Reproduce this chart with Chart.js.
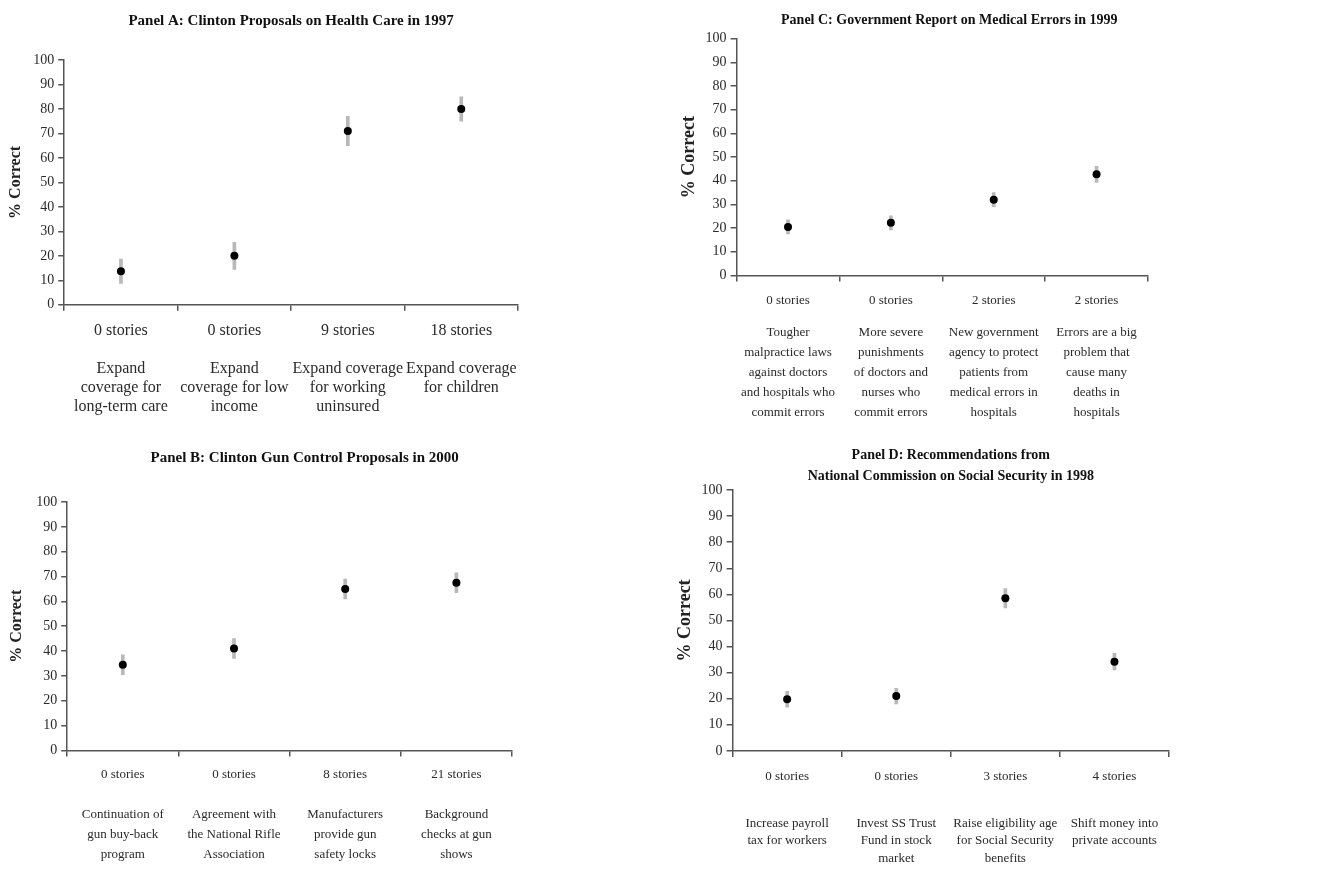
<!DOCTYPE html>
<html>
<head>
<meta charset="utf-8">
<script src="https://cdn.jsdelivr.net/npm/chart.js@4.4.1/dist/chart.umd.min.js"></script>
<style>
  body { margin: 0; background: #fff; width: 1337px; height: 888px; overflow: hidden; }
  .panel { position: absolute; }
</style>
</head>
<body>
<div class="panel" style="left:0px;top:0px;width:530px;height:420px"><canvas id="chartA"></canvas></div>
<div class="panel" style="left:0px;top:440px;width:525px;height:429px"><canvas id="chartB"></canvas></div>
<div class="panel" style="left:672px;top:0px;width:490px;height:427px"><canvas id="chartC"></canvas></div>
<div class="panel" style="left:670px;top:440px;width:667px;height:431px"><canvas id="chartD"></canvas></div>
<script>
// Panel A: health care 1997
const storiesA = ['0 stories', '0 stories', '9 stories', '18 stories'];
const itemsA = [
    ['Expand', 'coverage for', 'long-term care'],
    ['Expand', 'coverage for low', 'income'],
    ['Expand coverage', 'for working', 'uninsured'],
    ['Expand coverage', 'for children']
];
const correctA = [13.7, 20, 71, 80];
const errA = [5, 5.5, 6, 5];

// Panel B: gun control 2000
const storiesB = ['0 stories', '0 stories', '8 stories', '21 stories'];
const itemsB = [
    ['Continuation of', 'gun buy-back', 'program'],
    ['Agreement with', 'the National Rifle', 'Association'],
    ['Manufacturers', 'provide gun', 'safety locks'],
    ['Background', 'checks at gun', 'shows']
];
const correctB = [34.5, 41, 65, 67.5];
const errB = [4, 4, 4, 4];

// Panel C: medical errors 1999
const storiesC = ['0 stories', '0 stories', '2 stories', '2 stories'];
const itemsC = [
    ['Tougher', 'malpractice laws', 'against doctors', 'and hospitals who', 'commit errors'],
    ['More severe', 'punishments', 'of doctors and', 'nurses who', 'commit errors'],
    ['New government', 'agency to protect', 'patients from', 'medical errors in', 'hospitals'],
    ['Errors are a big', 'problem that', 'cause many', 'deaths in', 'hospitals']
];
const correctC = [20.5, 22.2, 32, 42.7];
const errC = [3, 3, 3, 3.4];

// Panel D: social security 1998
const storiesD = ['0 stories', '0 stories', '3 stories', '4 stories'];
const itemsD = [
    ['Increase payroll', 'tax for workers'],
    ['Invest SS Trust', 'Fund in stock', 'market'],
    ['Raise eligibility age', 'for Social Security', 'benefits'],
    ['Shift money into', 'private accounts']
];
const correctD = [19.8, 21, 58.5, 34.2];
const errD = [3, 3, 3.7, 3.2];

const yMin = 0;
const yMax = 100;
const yStep = 10;

const serif = '"Liberation Serif", "Times New Roman", serif';
const axisColor = '#555';
const textColor = '#2a2a2a';

function makePanel(canvasId, title, stories, items, values, errs, opt) {
    const ctx = document.getElementById(canvasId).getContext('2d');
    const ranges = values.map((v, i) => [v - errs[i], v + errs[i]]);
    return new Chart(ctx, {
        type: 'bar',
        data: {
            labels: stories,
            datasets: [{
                type: 'line',
                data: values,
                showLine: false,
                pointRadius: 4,
                pointBackgroundColor: '#000',
                pointBorderColor: '#000',
                pointBorderWidth: 0,
                order: 0
            }, {
                type: 'bar',
                data: ranges,
                backgroundColor: '#b8b8b8',
                borderWidth: 0,
                barThickness: 3,
                order: 1
            }]
        },
        options: {
            responsive: true,
            maintainAspectRatio: false,
            animation: false,
            layout: { padding: opt.padding },
            plugins: {
                legend: { display: false },
                tooltip: { enabled: false },
                title: {
                    display: true,
                    text: title,
                    fullSize: false,
                    color: '#111',
                    font: { family: serif, size: opt.titleSize, weight: 'bold', lineHeight: opt.titleLine || 1.2 },
                    padding: opt.titlePad
                }
            },
            scales: {
                x: {
                    type: 'category',
                    offset: true,
                    grid: { offset: true, drawOnChartArea: false, tickLength: 6, color: axisColor, lineWidth: 1.5 },
                    border: { color: axisColor, width: 1.5 },
                    ticks: { color: textColor, font: { family: serif, size: opt.storySize }, padding: opt.storyPad, maxRotation: 0, autoSkip: false }
                },
                // second bottom axis carries the item descriptions; its invisible ticks make the gap
                x2: {
                    type: 'category',
                    position: 'bottom',
                    labels: items,
                    offset: true,
                    grid: { drawOnChartArea: false, tickLength: opt.descGap, color: 'rgba(0,0,0,0)' },
                    border: { display: false },
                    ticks: { color: textColor, font: { family: serif, size: opt.descSize, lineHeight: opt.descLine }, padding: 0, maxRotation: 0, autoSkip: false }
                },
                y: {
                    min: yMin,
                    max: yMax,
                    grid: { drawOnChartArea: false, tickLength: 6, color: axisColor, lineWidth: 1.5 },
                    border: { color: axisColor, width: 1.5 },
                    ticks: { stepSize: yStep, color: textColor, font: { family: serif, size: 14 }, padding: 4 },
                    title: {
                        display: true,
                        text: '% Correct',
                        color: '#222',
                        font: { family: serif, size: opt.yTitleSize, weight: 'bold' },
                        padding: { top: 0, bottom: opt.yTitleGap }
                    }
                }
            }
        }
    });
}

makePanel('chartA', 'Panel A: Clinton Proposals on Health Care in 1997', storiesA, itemsA, correctA, errA, {
    padding: { left: 6, right: 12, top: 0, bottom: 4 },
    titleSize: 15, titlePad: { top: 12, bottom: 30 },
    yTitleSize: 16, yTitleGap: 4,
    storySize: 16, storyPad: 10,
    descSize: 16, descLine: '19px', descGap: 9
});
makePanel('chartB', '        Panel B: Clinton Gun Control Proposals in 2000', storiesB, itemsB, correctB, errB, {
    padding: { left: 7, right: 13, top: 0, bottom: 4 },
    titleSize: 15, titlePad: { top: 9, bottom: 35 },
    yTitleSize: 16, yTitleGap: 6,
    storySize: 13, storyPad: 10,
    descSize: 13, descLine: '20px', descGap: 13
});
makePanel('chartC', '    Panel C: Government Report on Medical Errors in 1999', storiesC, itemsC, correctC, errC, {
    padding: { left: 7, right: 14, top: 0, bottom: 4 },
    titleSize: 14, titlePad: { top: 12, bottom: 10 },
    yTitleSize: 18, yTitleGap: 1,
    storySize: 13, storyPad: 11,
    descSize: 13, descLine: '20px', descGap: 4
});
makePanel('chartD', ['Panel D: Recommendations from', 'National Commission on Social Security in 1998'], storiesD, itemsD, correctD, errD, {
    padding: { left: 5, right: 168, top: 0, bottom: 4 },
    titleSize: 14, titlePad: { top: 5, bottom: 3 },
    titleLine: 1.5,
    yTitleSize: 18, yTitleGap: 1,
    storySize: 13, storyPad: 12,
    descSize: 13, descLine: '17.5px', descGap: 18
});
</script>
</body>
</html>
